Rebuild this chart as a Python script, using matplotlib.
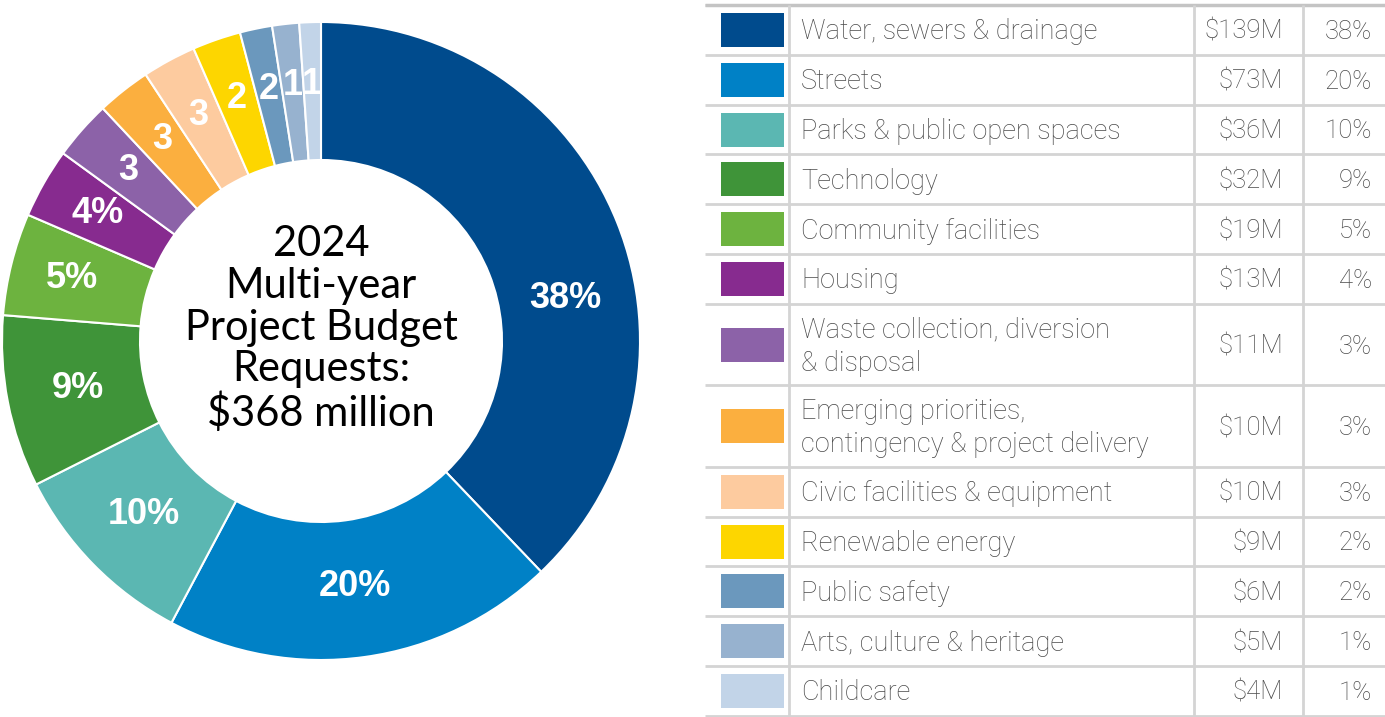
import numpy as np
import matplotlib
matplotlib.use('Agg')
from matplotlib import pyplot as plt

# Budget requests by category ($M), ordered as drawn clockwise from 12 o'clock
categories = ['Water, sewers & drainage', 'Streets', 'Parks & public open spaces',
              'Technology', 'Community facilities', 'Housing',
              'Waste collection, diversion\n& disposal',
              'Emerging priorities,\ncontingency & project delivery',
              'Civic facilities & equipment', 'Renewable energy', 'Public safety',
              'Arts, culture & heritage', 'Childcare']
amounts = [139, 73, 36, 32, 19, 13, 11, 10, 10, 9, 6, 5, 4]
percents = [38, 20, 10, 9, 5, 4, 3, 3, 3, 2, 2, 1, 1]
wedge_labels = ['38%', '20%', '10%', '9%', '5%', '4%', '3', '3', '3', '2', '2', '1', '1']
colors = ['#004b8d', '#0081c6', '#5bb7b2', '#3f9439', '#6db33f', '#872b8f',
          '#8c62a8', '#fbaf3f', '#fdcb9f', '#fdd600', '#6b98bd', '#97b2cf', '#c2d4e8']
center_title = '2024\nMulti-year\nProject Budget\nRequests:\n$368 million'

W, H = 1385, 717
fig = plt.figure(figsize=(W / 100, H / 100), dpi=100)

# ---- donut ----
cx, cy, r_out, r_in = 321, 341, 319, 181
half = 320
ax = fig.add_axes([(cx - half) / W, (H - cy - half) / H, 2 * half / W, 2 * half / H])
ax.pie(amounts, colors=colors, startangle=90, counterclock=False, radius=r_out,
       wedgeprops=dict(width=r_out - r_in, edgecolor='white', linewidth=1.5))
ax.set_xlim(-half, half)
ax.set_ylim(-half, half)
ax.set_aspect('equal')
ax.axis('off')

total = sum(amounts)
cum = np.cumsum([0] + amounts)
angle_shift = {0: 12}  # nudge the big wedge's label toward the horizontal
for i, lab in enumerate(wedge_labels):
    frac = (cum[i] + amounts[i] / 2) / total
    ang = np.deg2rad(frac * 360 + angle_shift.get(i, 0))
    # thin wedges get their labels pushed a little further out
    label_r = 248 if percents[i] >= 9 else 257
    x, y = label_r * np.sin(ang), label_r * np.cos(ang)
    ax.text(x, y, lab, ha='center', va='center', color='white', fontsize=26,
            fontweight='bold', family='Liberation Sans')

ax.text(0, 12, center_title, ha='center', va='center', fontsize=30,
        family='Lato', color='black', linespacing=1.12)

# ---- table ----
tx = fig.add_axes([0, 0, 1, 1])
tx.set_xlim(0, W)
tx.set_ylim(H, 0)
tx.axis('off')

x_left, x_sw, x_lab, x_amt, x_right = 705, 789, 1194, 1303, 1385
y_top = 5
row_h = [81.5 if '\n' in c else 49.8 for c in categories]
edges = y_top + np.concatenate([[0], np.cumsum(row_h)])
line_col = '#d4d4d4'
tx.hlines(edges, x_left, x_right, color=line_col, lw=2)
tx.hlines(edges[0], x_left, x_right, color='#c4c4c4', lw=2.5)
tx.vlines([x_sw, x_lab, x_amt], edges[0], edges[-1], color=line_col, lw=2)

txt_col = '#4a4a4a'
tfont = dict(family='Roboto', fontweight='light', color=txt_col)
for i, cat in enumerate(categories):
    yc = (edges[i] + edges[i + 1]) / 2
    tx.add_patch(plt.Rectangle((721, yc - 17), 63, 34, color=colors[i], lw=0))
    tx.text(801, yc + 2, cat, ha='left', va='center', linespacing=1.3,
            fontsize=19.5, **tfont)
    tx.text(1283, yc + 2, f'${amounts[i]}M', ha='right', va='center',
            fontsize=18.5, **tfont)
    tx.text(1372, yc + 2, f'{percents[i]}%', ha='right', va='center',
            fontsize=18.5, **tfont)

fig.savefig('out.png', dpi=100)
plt.close(fig)
